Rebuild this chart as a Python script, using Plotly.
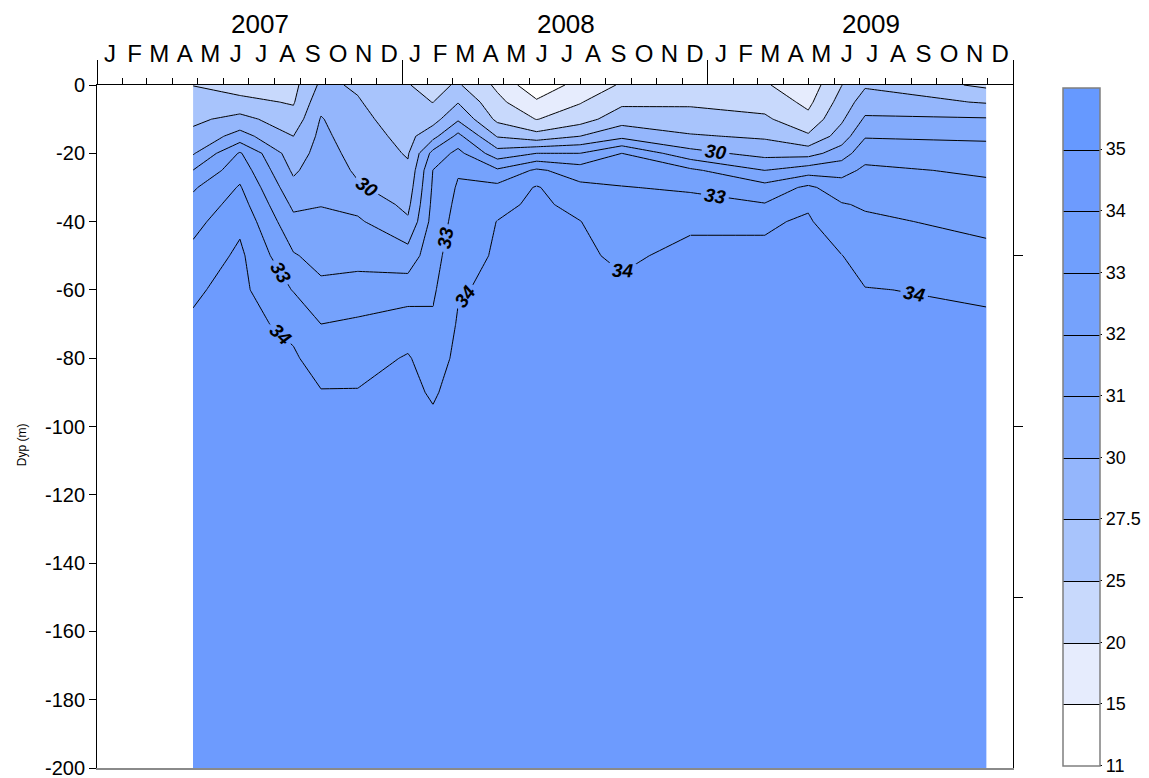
import datetime as dt
import numpy as np
import plotly.graph_objects as go

FONT = "Liberation Sans, Arial, sans-serif"

# ---------------- data (salinity profiles) ----------------
# depth of each profile value (m)
depths = [0, 5, 10, 15, 20, 25, 30, 35, 40, 50, 60, 70, 80, 90, 100, 200]

# sampling dates
dates = ["2007-04-26", "2007-06-21", "2007-08-24", "2007-09-26", "2007-11-09",
         "2008-01-08", "2008-02-07", "2008-03-08", "2008-04-24", "2008-06-10",
         "2008-08-01", "2008-09-20", "2008-12-11", "2009-03-10", "2009-05-01",
         "2009-06-10", "2009-07-08", "2009-11-30"]

sal_2007_04_26 = [24.9, 25.93, 26.96, 28.23, 29.76, 31.02, 31.88, 32.31, 32.67, 33.30, 33.9, 34.09, 34.23, 34.36, 34.5, 34.6]
sal_2007_06_21 = [23.0, 25.63, 28.33, 30.37, 32.10, 32.62, 33.09, 33.44, 33.79, 34.2, 34.25, 34.3, 34.35, 34.42, 34.5, 34.6]
sal_2007_08_24 = [23.5, 24.57, 25.94, 27.5, 28.54, 29.58, 30.3, 30.8, 31.25, 32.09, 32.95, 33.76, 34.13, 34.31, 34.5, 34.6]
sal_2007_09_26 = [28.0, 29.22, 30.07, 30.25, 30.43, 30.61, 30.79, 30.97, 31.20, 31.67, 32.23, 33.0, 33.56, 34.05, 34.3, 34.6]
sal_2007_11_09 = [27.2, 27.69, 28.17, 28.65, 29.13, 29.62, 30.12, 30.71, 31.14, 31.68, 32.38, 33.16, 33.63, 34.05, 34.3, 34.6]
sal_2008_01_08 = [25.1, 25.65, 26.19, 26.74, 27.28, 27.94, 28.68, 29.41, 30.14, 31.44, 32.52, 33.51, 34.08, 34.24, 34.4, 34.6]
sal_2008_02_07 = [23.5, 24.92, 26.53, 29.17, 31.33, 32.02, 32.14, 32.26, 32.38, 32.62, 32.86, 33.15, 33.52, 33.89, 34.2, 34.6]
sal_2008_03_08 = [25.3, 27.38, 29.64, 31.28, 32.29, 32.90, 33.11, 33.25, 33.38, 33.65, 33.92, 34.09, 34.23, 34.36, 34.5, 34.6]
sal_2008_04_24 = [19.0, 21.31, 23.84, 27.33, 30.42, 32.15, 33.26, 33.72, 34.02, 34.10, 34.18, 34.26, 34.34, 34.42, 34.5, 34.6]
sal_2008_06_10 = [12.0, 15.74, 19.84, 25.94, 31.0, 33.17, 34.08, 34.2, 34.22, 34.25, 34.28, 34.31, 34.36, 34.43, 34.5, 34.6]
sal_2008_08_01 = [17.0, 19.68, 22.78, 27.5, 31.0, 32.5, 33.24, 33.71, 34.02, 34.10, 34.18, 34.26, 34.34, 34.42, 34.5, 34.6]
sal_2008_09_20 = [20.5, 23.96, 26.46, 29.29, 32.0, 32.56, 33.04, 33.24, 33.44, 33.9, 34.1, 34.18, 34.28, 34.39, 34.5, 34.6]
sal_2008_12_11 = [23.0, 24.33, 25.89, 27.75, 30.33, 32.2, 32.87, 33.31, 33.9, 34.15, 34.2, 34.25, 34.32, 34.41, 34.5, 34.6]
sal_2009_03_10 = [20.5, 23.06, 25.42, 27.15, 29.17, 31.0, 32.36, 33.06, 33.9, 34.15, 34.2, 34.25, 34.32, 34.41, 34.5, 34.6]
sal_2009_05_01 = [17.0, 18.81, 21.35, 25.37, 29.03, 31.53, 33.2, 33.9, 34.1, 34.15, 34.2, 34.26, 34.34, 34.42, 34.5, 34.6]
sal_2009_06_10 = [24.9, 26.01, 27.12, 28.63, 30.5, 31.67, 32.43, 33.07, 33.43, 34.02, 34.12, 34.21, 34.31, 34.4, 34.5, 34.6]
sal_2009_07_08 = [27.2, 28.7, 30.14, 30.92, 31.64, 32.18, 32.53, 32.89, 33.17, 33.66, 34.03, 34.15, 34.27, 34.38, 34.5, 34.6]
sal_2009_11_30 = [24.0, 27.3, 30.09, 30.84, 31.38, 31.86, 32.2, 32.48, 32.75, 33.26, 33.9, 34.1, 34.2, 34.3, 34.4, 34.6]

profiles = [sal_2007_04_26, sal_2007_06_21, sal_2007_08_24, sal_2007_09_26, sal_2007_11_09,
            sal_2008_01_08, sal_2008_02_07, sal_2008_03_08, sal_2008_04_24, sal_2008_06_10,
            sal_2008_08_01, sal_2008_09_20, sal_2008_12_11, sal_2009_03_10, sal_2009_05_01,
            sal_2009_06_10, sal_2009_07_08, sal_2009_11_30]

# contour levels (colour bar boundaries) and band colours
levels = [11, 15, 20, 25, 27.5, 30, 31, 32, 33, 34, 35, 36]
level_labels = ["11", "15", "20", "25", "27.5", "30", "31", "32", "33", "34", "35"]
band_colors = ["#ffffff", "#e6ecfd", "#c8d9fc", "#a8c4fc", "#94b6fc", "#83abfc",
               "#7ba6fc", "#75a2fc", "#709ffd", "#6d9bfe", "#6699ff"]

# labelled isolines: stretches of sampling columns (first, last) and whether the
# stretch carries a value label
labelled_stretches = {
    30: [(0, 2, False), (2, 5, True), (5, 11, False), (11, 14, True), (14, 17, False)],
    33: [(0, 1, False), (1, 3, True), (3, 6, False), (6, 7, True), (7, 11, False), (11, 14, True), (14, 17, False)],
    34: [(0, 1, False), (1, 3, True), (3, 6, False), (6, 8, True), (8, 9, False), (9, 12, True), (12, 15, False), (15, 17, True)],
}

month_letters = ["J", "F", "M", "A", "M", "J", "J", "A", "S", "O", "N", "D"]
years = [2007, 2008, 2009]
bottom_ticks = list(range(39100, 40101, 100))
depth_ticks = list(range(0, -201, -20))

# ---------------- helpers ----------------
EPOCH = dt.date(1899, 12, 30)


def serial(d):
    return (d - EPOCH).days


xs = np.array([serial(dt.date.fromisoformat(s)) for s in dates])
ys = [-d for d in depths]
z = np.array(profiles).T  # rows = depth, cols = date

# map the uneven levels to an even index space (one unit per colour band)
idx = list(range(25, 25 + len(levels)))
zt = np.interp(z, levels, idx)

month_starts = [serial(dt.date(y, m, 1)) for y in years for m in range(1, 13)] + [serial(dt.date(years[-1] + 1, 1, 1))]
month_mids = [(month_starts[i] + month_starts[i + 1]) / 2 for i in range(len(month_starts) - 1)]
month_text = month_letters * len(years)
year_starts = [serial(dt.date(y, 1, 1)) for y in years + [years[-1] + 1]]
year_label_pos = [serial(dt.date(y, 7, 15)) for y in years]
xrange_ = [year_starts[0], year_starts[-1]]

n_bands = len(band_colors)
colorscale = [[i / (n_bands - 1), c] for i, c in enumerate(band_colors)]
cstart, cend = idx[1], idx[-2]

fig = go.Figure()

# filled bands
fig.add_trace(go.Contour(
    x=xs, y=ys, z=zt, colorscale=colorscale, zmin=idx[0], zmax=idx[-1],
    autocontour=False,
    contours=dict(start=cstart, end=cend, size=1, coloring="fill", showlines=False),
    line=dict(width=0, smoothing=0), showscale=False, hoverinfo="skip"))

# unlabelled isolines
unl = [i for lv, i in zip(levels[1:-1], idx[1:-1]) if lv not in labelled_stretches]
groups = []
cur = [unl[0]]
for v in unl[1:]:
    if v == cur[-1] + 1:
        cur.append(v)
    else:
        groups.append(cur)
        cur = [v]
groups.append(cur)
for g in groups:
    fig.add_trace(go.Contour(
        x=xs, y=ys, z=zt, autocontour=False,
        contours=dict(start=g[0], end=g[-1], size=1, coloring="none", showlabels=False),
        line=dict(color="black", width=1, smoothing=0), showscale=False, hoverinfo="skip"))

# labelled isolines, drawn stretch by stretch
for lv, stretches in labelled_stretches.items():
    i = idx[levels.index(lv)]
    for c0, c1, lab in stretches:
        fig.add_trace(go.Contour(
            x=xs[c0:c1 + 1], y=ys, z=zt[:, c0:c1 + 1], autocontour=False,
            contours=dict(start=i, end=i, size=1, coloring="none", showlabels=lab,
                          labelfont=dict(size=19, color="black", family=FONT,
                                         style="italic", weight="bold")),
            line=dict(color="black", width=1, smoothing=0), showscale=False, hoverinfo="skip"))

# colour bar source (kept outside its own hidden axes' view)
fig.add_trace(go.Contour(
    x=[0, 1], y=[0, 1], z=[[idx[0], idx[-1]], [idx[0], idx[-1]]], xaxis="x6", yaxis="y6",
    colorscale=colorscale, zmin=idx[0], zmax=idx[-1], autocontour=False,
    contours=dict(start=cstart, end=cend, size=1, coloring="fill", showlines=True),
    line=dict(color="black", width=1), hoverinfo="skip", showscale=True,
    colorbar=dict(
        tickvals=idx[:-1], ticktext=level_labels, ticks="outside", ticklen=2,
        tickcolor="black", tickfont=dict(size=18, family=FONT, color="black"),
        thickness=37, thicknessmode="pixels", len=0.993, lenmode="fraction",
        x=1.0546, xanchor="left", y=0.5, yanchor="middle", xpad=0, ypad=0,
        outlinecolor="#7f7f7f", outlinewidth=1.5)))

# empty traces so that the extra axes get drawn
for ax in ["x2", "x3", "x4", "x5"]:
    fig.add_trace(go.Scatter(x=[], y=[], xaxis=ax, yaxis="y", hoverinfo="skip"))
fig.add_trace(go.Scatter(x=[], y=[], xaxis="x", yaxis="y2", hoverinfo="skip"))

axis_common = dict(showgrid=False, zeroline=False)
# the page body adds an 8 px offset, so the figure is 8 px smaller than the window
fig.update_layout(
    width=1141, height=770,
    margin=dict(l=89, r=136, t=77, b=10, autoexpand=False),
    paper_bgcolor="white", plot_bgcolor="white",
    font=dict(family=FONT, color="black"),
    showlegend=False,
    xaxis=dict(range=xrange_, tickvals=bottom_ticks, ticktext=[str(v) for v in bottom_ticks],
               ticks="", tickfont=dict(size=18), automargin=False, ticklabeloverflow="allow",
               showline=True, linecolor="#8a8a8a", linewidth=2, **axis_common),
    yaxis=dict(range=[-200, 0], tickvals=depth_ticks, ticktext=[str(v) for v in depth_ticks],
               ticks="outside", ticklen=7, tickcolor="black", automargin=False,
               ticklabeloverflow="allow",
               tickfont=dict(size=20), showline=True, linecolor="black", linewidth=1,
               **axis_common),
    yaxis2=dict(overlaying="y", side="right", anchor="x", range=[-200, 0],
                tickvals=[-150, -100, -50], ticks="outside", ticklen=9, tickcolor="black",
                showticklabels=False, showline=True, linecolor="black", linewidth=1, **axis_common),
    xaxis2=dict(overlaying="x", side="top", anchor="y", range=xrange_, tickvals=month_starts,
                ticks="outside", ticklen=6, tickcolor="black", showticklabels=False,
                showline=True, linecolor="black", linewidth=1, **axis_common),
    xaxis3=dict(overlaying="x", side="top", anchor="y", range=xrange_, tickvals=year_starts,
                ticks="outside", ticklen=24, tickcolor="black", showticklabels=False,
                showline=False, **axis_common),
    xaxis4=dict(overlaying="x", side="top", anchor="y", range=xrange_, tickvals=month_mids,
                ticktext=month_text, ticks="outside", ticklen=12, tickcolor="rgba(0,0,0,0)",
                tickfont=dict(size=24), showline=False, **axis_common),
    xaxis5=dict(overlaying="x", side="top", anchor="y", range=xrange_, tickvals=year_label_pos,
                ticktext=[str(y) for y in years], ticks="outside", ticklen=41,
                tickcolor="rgba(0,0,0,0)", tickfont=dict(size=26), showline=False, **axis_common),
    xaxis6=dict(domain=[0, 0.001], range=[5, 6], visible=False, anchor="y6"),
    yaxis6=dict(domain=[0, 0.001], range=[5, 6], visible=False, anchor="x6"),
    annotations=[dict(text="Dyp (m)", textangle=-90, xref="paper", yref="paper",
                      x=-0.082, y=0.474, xanchor="center", yanchor="middle",
                      showarrow=False, font=dict(size=12))],
)

fig.write_html("out.html", config={"displayModeBar": False})
